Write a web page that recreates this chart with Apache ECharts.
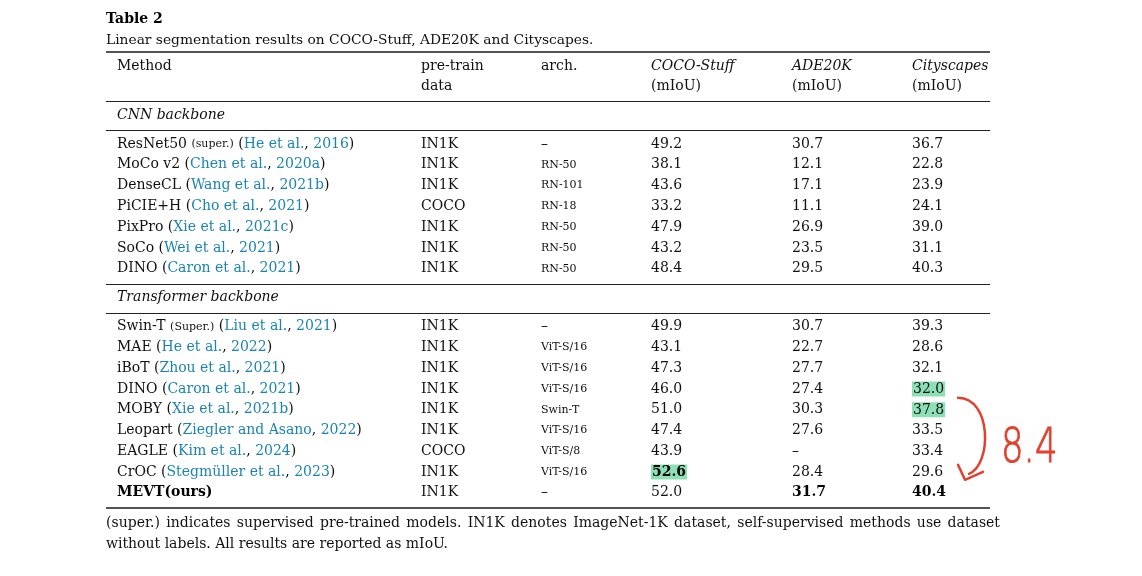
<!DOCTYPE html>
<html lang="en">
<head>
    <meta charset="UTF-8">
    <title>Table 2</title>
    <script src="https://cdn.jsdelivr.net/npm/echarts@6/dist/echarts.min.js"></script>
    <style>
        html, body {margin: 0; padding: 0; background: #fff;}
        #main {width: 1142px; height: 576px;}
    </style>
</head>
<body>
<div id="main"></div>

<script type="text/javascript">
    // table data
    var headers = ['Method', 'pre-train', 'arch.', 'COCO-Stuff', 'ADE20K', 'Cityscapes'];
    var headers2 = ['', 'data', '', '(mIoU)', '(mIoU)', '(mIoU)'];
    var sections = ['CNN backbone', 'Transformer backbone'];

    var cnnMethods = ['ResNet50', 'MoCo v2', 'DenseCL', 'PiCIE+H', 'PixPro', 'SoCo', 'DINO'];
    var cnnNotes = ['(super.)', '', '', '', '', '', ''];
    var cnnCiteAuthors = ['He et al.', 'Chen et al.', 'Wang et al.', 'Cho et al.', 'Xie et al.', 'Wei et al.', 'Caron et al.'];
    var cnnCiteYears = ['2016', '2020a', '2021b', '2021', '2021c', '2021', '2021'];
    var cnnPretrain = ['IN1K', 'IN1K', 'IN1K', 'COCO', 'IN1K', 'IN1K', 'IN1K'];
    var cnnArch = ['–', 'RN-50', 'RN-101', 'RN-18', 'RN-50', 'RN-50', 'RN-50'];
    var cnnCoco = [49.2, 38.1, 43.6, 33.2, 47.9, 43.2, 48.4];
    var cnnAde = [30.7, 12.1, 17.1, 11.1, 26.9, 23.5, 29.5];
    var cnnCity = [36.7, 22.8, 23.9, 24.1, 39.0, 31.1, 40.3];

    var trMethods = ['Swin-T', 'MAE', 'iBoT', 'DINO', 'MOBY', 'Leopart', 'EAGLE', 'CrOC', 'MEVT(ours)'];
    var trNotes = ['(Super.)', '', '', '', '', '', '', '', ''];
    var trCiteAuthors = ['Liu et al.', 'He et al.', 'Zhou et al.', 'Caron et al.', 'Xie et al.', 'Ziegler and Asano', 'Kim et al.', 'Stegmüller et al.', ''];
    var trCiteYears = ['2021', '2022', '2021', '2021', '2021b', '2022', '2024', '2023', ''];
    var trPretrain = ['IN1K', 'IN1K', 'IN1K', 'IN1K', 'IN1K', 'IN1K', 'COCO', 'IN1K', 'IN1K'];
    var trArch = ['–', 'ViT-S/16', 'ViT-S/16', 'ViT-S/16', 'Swin-T', 'ViT-S/16', 'ViT-S/8', 'ViT-S/16', '–'];
    var trCoco = [49.9, 43.1, 47.3, 46.0, 51.0, 47.4, 43.9, 52.6, 52.0];
    var trAde = [30.7, 22.7, 27.7, 27.4, 30.3, 27.6, null, 28.4, 31.7];
    var trCity = [39.3, 28.6, 32.1, 32.0, 37.8, 33.5, 33.4, 29.6, 40.4];

    var footnote = ['(super.) indicates supervised pre-trained models. IN1K denotes ImageNet-1K dataset, self-supervised methods use dataset',
        'without labels. All results are reported as mIoU.'];

    // emphasis in the transformer block: [row, col]
    var boldCells = [[8, 0], [8, 4], [8, 5], [7, 3]];
    var markedCells = [[3, 5], [4, 5], [7, 3]];

    // layout
    var SERIF = '"DejaVu Serif", serif';
    var tableLeft = 106, tableRight = 990, noteRight = 1000;
    var colX = [117, 421, 541, 651, 792, 912];
    var ink = '#111';
    var cite = '#1b84b4';
    var red = '#e2402e';

    var rich = {
        nm: {fontFamily: SERIF, fontSize: 14, color: ink},
        it: {fontFamily: SERIF, fontSize: 14, color: ink, fontStyle: 'italic'},
        bd: {fontFamily: SERIF, fontSize: 14, color: '#000', fontWeight: 'bold'},
        sm: {fontFamily: SERIF, fontSize: 11, color: ink},
        ct: {fontFamily: SERIF, fontSize: 14, color: cite},
        hl: {fontFamily: SERIF, fontSize: 14, color: ink, backgroundColor: '#8ddfb5', padding: [1, 1, 0, 1]},
        hlb: {fontFamily: SERIF, fontSize: 14, color: '#000', fontWeight: 'bold', backgroundColor: '#8ddfb5', padding: [1, 1, 0, 1]}
    };

    function has(list, r, c) {
        for (var k = 0; k < list.length; k++) {
            if (list[k][0] === r && list[k][1] === c) return true;
        }
        return false;
    }

    function num(v) {
        return v === null ? '–' : v.toFixed(1);
    }

    function methodText(m, note, au, yr, bold) {
        var s = bold ? '{bd|' + m + '}' : '{nm|' + m + '}';
        if (note) s += '{nm| }{sm|' + note + '}';
        if (au) s += '{nm| (}{ct|' + au + '}{nm|, }{ct|' + yr + '}{nm|)}';
        return s;
    }

    var cells = [];
    var rules = [];

    function cell(x, y, txt) {
        cells.push({name: txt, value: [x, y]});
    }

    // walk down the table
    var y = 52;
    rules.push({y: y, w: 1.8, c: '#555'});
    y += 14;
    for (var i = 0; i < headers.length; i++) {
        cell(colX[i], y, i >= 3 ? '{it|' + headers[i] + '}' : '{nm|' + headers[i] + '}');
    }
    y += 20;
    for (i = 0; i < headers2.length; i++) {
        if (headers2[i]) cell(colX[i], y, '{nm|' + headers2[i] + '}');
    }
    y += 15;
    rules.push({y: y, w: 1.2, c: '#222'});
    y += 14;
    cell(colX[0], y, '{it|' + sections[0] + '}');
    y += 15;
    rules.push({y: y, w: 1.2, c: '#222'});
    y += 14;
    for (i = 0; i < cnnMethods.length; i++) {
        var ry = y + i * 20.8;
        cell(colX[0], ry, methodText(cnnMethods[i], cnnNotes[i], cnnCiteAuthors[i], cnnCiteYears[i], false));
        cell(colX[1], ry, '{nm|' + cnnPretrain[i] + '}');
        cell(colX[2], ry, cnnArch[i] === '–' ? '{nm|–}' : '{sm|' + cnnArch[i] + '}');
        cell(colX[3], ry, '{nm|' + num(cnnCoco[i]) + '}');
        cell(colX[4], ry, '{nm|' + num(cnnAde[i]) + '}');
        cell(colX[5], ry, '{nm|' + num(cnnCity[i]) + '}');
    }
    y += (cnnMethods.length - 1) * 20.8 + 15;
    rules.push({y: y, w: 1.2, c: '#222'});
    y += 14;
    cell(colX[0], y, '{it|' + sections[1] + '}');
    y += 15;
    rules.push({y: y, w: 1.2, c: '#222'});
    y += 14;
    var trY = [];
    for (i = 0; i < trMethods.length; i++) {
        ry = y + i * 20.75;
        trY.push(ry);
        cell(colX[0], ry, methodText(trMethods[i], trNotes[i], trCiteAuthors[i], trCiteYears[i], has(boldCells, i, 0)));
        cell(colX[1], ry, '{nm|' + trPretrain[i] + '}');
        cell(colX[2], ry, trArch[i] === '–' ? '{nm|–}' : '{sm|' + trArch[i] + '}');
        var vals = [trCoco[i], trAde[i], trCity[i]];
        for (var j = 0; j < 3; j++) {
            var c = j + 3;
            var st = has(markedCells, i, c) ? (has(boldCells, i, c) ? 'hlb' : 'hl') : (has(boldCells, i, c) ? 'bd' : 'nm');
            cell(colX[c], ry, '{' + st + '|' + num(vals[j]) + '}');
        }
    }
    y += (trMethods.length - 1) * 20.75 + 15;
    rules.push({y: y, w: 1.8, c: '#555'});
    var bottomY = y;

    var ruleLines = rules.map(function (r) {
        return [{coord: [tableLeft, r.y], lineStyle: {width: r.w, color: r.c}}, {coord: [tableRight, r.y]}];
    });

    // footnote, first line justified to the page width like the original
    var noteFont = '14px "DejaVu Serif", serif';
    var ctx = document.createElement('canvas').getContext('2d');
    ctx.font = noteFont;
    var words = footnote[0].split(' ');
    var wordsW = 0;
    words.forEach(function (w) { wordsW += ctx.measureText(w).width; });
    var gap = (noteRight - tableLeft - wordsW) / (words.length - 1);
    var noteTexts = [];
    var wx = tableLeft;
    words.forEach(function (w) {
        noteTexts.push({
            type: 'text', x: wx, y: bottomY + 16,
            style: {text: w, font: noteFont, fill: ink, verticalAlign: 'middle', align: 'left'}
        });
        wx += ctx.measureText(w).width + gap;
    });
    noteTexts.push({
        type: 'text', x: tableLeft, y: bottomY + 37,
        style: {text: footnote[1], font: noteFont, fill: ink, verticalAlign: 'middle', align: 'left'}
    });

    var myChart = echarts.init(document.getElementById('main'));
    var option = {
        backgroundColor: '#fff',
        animation: false,
        title: [{
            text: 'Table 2',
            left: tableLeft, top: 12, padding: 0,
            textStyle: {fontFamily: SERIF, fontSize: 14, fontWeight: 'bold', color: '#000'}
        }, {
            text: 'Linear segmentation results on COCO-Stuff, ADE20K and Cityscapes.',
            left: tableLeft, top: 33, padding: 0,
            textStyle: {fontFamily: SERIF, fontSize: 13.8, fontWeight: 'normal', color: ink}
        }],
        grid: {left: 0, right: 0, top: 0, bottom: 0},
        xAxis: {type: 'value', min: 0, max: 1142, show: false},
        yAxis: {type: 'value', min: 0, max: 576, inverse: true, show: false},
        series: [{
            type: 'scatter',
            symbolSize: 0,
            silent: true,
            itemStyle: {opacity: 1},
            data: cells,
            label: {
                show: true,
                position: 'right',
                distance: 0,
                opacity: 1,
                formatter: function (p) { return p.name; },
                rich: rich
            },
            markLine: {
                silent: true,
                symbol: 'none',
                label: {show: false},
                lineStyle: {type: 'solid', opacity: 1},
                data: ruleLines
            }
        }]
    };
    myChart.setOption(option);

    // red hand annotation beside the Cityscapes column, ending at our score
    var from = myChart.convertToPixel({gridIndex: 0}, [colX[5], trY[4]]);
    var to = myChart.convertToPixel({gridIndex: 0}, [colX[5], trY[8]]);
    var gain = (trCity[8] - trCity[3]).toFixed(1);
    myChart.setOption({
        graphic: noteTexts.concat([{
            type: 'bezierCurve',
            shape: {
                x1: from[0] + 46, y1: from[1] - 12,
                cpx1: from[0] + 80, cpy1: from[1] - 12,
                cpx2: to[0] + 80, cpy2: to[1] - 28,
                x2: to[0] + 57, y2: to[1] - 19
            },
            style: {stroke: red, lineWidth: 2.5, fill: null, lineCap: 'round'}
        }, {
            type: 'polyline',
            shape: {points: [[to[0] + 46, to[1] - 28], [to[0] + 53, to[1] - 13], [to[0] + 71, to[1] - 21]]},
            style: {stroke: red, lineWidth: 2.5, fill: null, lineCap: 'round', lineJoin: 'round'}
        }, {
            type: 'text',
            x: to[0] + 89, y: to[1] - 43,
            scaleX: 0.74,
            style: {
                text: gain,
                fill: red,
                stroke: red,
                lineWidth: 1,
                font: '300 48px "DejaVu Sans", sans-serif',
                verticalAlign: 'middle',
                align: 'left'
            }
        }])
    });
</script>
</body>
</html>
